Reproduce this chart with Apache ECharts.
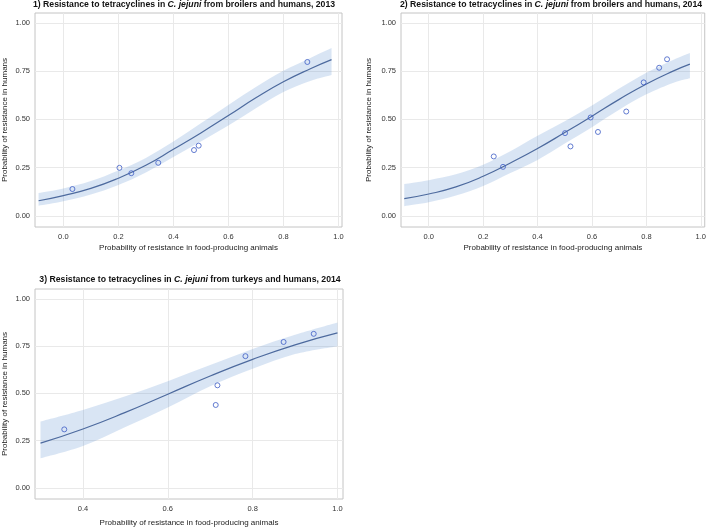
<!DOCTYPE html>
<html>
<head>
<meta charset="utf-8">
<script src="https://cdn.jsdelivr.net/npm/echarts@6/dist/echarts.min.js"></script>
<style>html,body{margin:0;padding:0;background:#fff}#c{width:709px;height:528px}</style>
</head>
<body>
<div id="c"></div>
<script>
// ---- Data ----
const xTicksA = [0, 0.2, 0.4, 0.6, 0.8, 1.0];
const xTicksC = [0.4, 0.6, 0.8, 1.0];
const yTicks = [0, 0.25, 0.5, 0.75, 1.0];

// Panel 1: broilers 2013
const p1ObsX = [0.033, 0.204, 0.247, 0.345, 0.475, 0.492, 0.887];
const p1ObsY = [0.139, 0.249, 0.221, 0.275, 0.341, 0.364, 0.798];
const p1CurveX = [-0.09, 0, 0.1, 0.2, 0.3, 0.4, 0.5, 0.6, 0.7, 0.8, 0.9, 0.975];
const p1Fit    = [0.078, 0.105, 0.142, 0.195, 0.262, 0.345, 0.43, 0.52, 0.612, 0.695, 0.764, 0.81];
const p1Lower  = [0.052, 0.075, 0.11, 0.16, 0.225, 0.305, 0.385, 0.468, 0.558, 0.642, 0.70, 0.73];
const p1Upper  = [0.118, 0.142, 0.18, 0.235, 0.30, 0.385, 0.48, 0.575, 0.668, 0.752, 0.82, 0.87];

// Panel 2: broilers 2014
const p2ObsX = [0.239, 0.273, 0.501, 0.521, 0.595, 0.622, 0.726, 0.790, 0.847, 0.876];
const p2ObsY = [0.308, 0.254, 0.429, 0.360, 0.510, 0.435, 0.541, 0.692, 0.768, 0.812];
const p2CurveX = [-0.09, 0, 0.1, 0.2, 0.3, 0.4, 0.5, 0.6, 0.7, 0.8, 0.9, 0.96];
const p2Fit    = [0.089, 0.113, 0.15, 0.205, 0.274, 0.349, 0.432, 0.517, 0.604, 0.684, 0.752, 0.787];
const p2Lower  = [0.05, 0.07, 0.105, 0.155, 0.222, 0.29, 0.375, 0.46, 0.55, 0.63, 0.69, 0.713];
const p2Upper  = [0.165, 0.185, 0.215, 0.265, 0.335, 0.415, 0.49, 0.572, 0.66, 0.742, 0.81, 0.845];

// Panel 3: turkeys 2014
const p3ObsX = [0.356, 0.713, 0.717, 0.783, 0.873, 0.944];
const p3ObsY = [0.310, 0.439, 0.543, 0.697, 0.772, 0.815];
const p3CurveX = [0.3, 0.4, 0.5, 0.6, 0.7, 0.8, 0.9, 1.0];
const p3Fit    = [0.237, 0.312, 0.40, 0.496, 0.592, 0.68, 0.757, 0.82];
const p3Lower  = [0.157, 0.222, 0.322, 0.425, 0.538, 0.63, 0.708, 0.75];
const p3Upper  = [0.352, 0.413, 0.485, 0.565, 0.65, 0.735, 0.81, 0.875];

const titles = [
  ['1) Resistance to tetracyclines in ', 'C. jejuni', ' from broilers and humans, 2013'],
  ['2) Resistance to tetracyclines in ', 'C. jejuni', ' from broilers and humans, 2014'],
  ['3) Resistance to tetracyclines in ', 'C. jejuni', ' from turkeys and humans, 2014']
];
const xName = 'Probability of resistance in food-producing animals';
const yName = 'Probability of resistance in humans';

// ---- Styling ----
const FONT = 'Liberation Sans, Arial, Helvetica, sans-serif';
const LINE = '#4d6a9e';
const BAND = 'rgba(95,145,210,0.24)';
const MARK = '#3d5cc6';
const GRIDC = '#e9e9e9';

function zip(a, b) { return a.map((v, i) => [v, b[i]]); }

const grids = [
  {left: 34, top: 13, width: 308, height: 214},
  {left: 401, top: 13, width: 307, height: 214},
  {left: 34, top: 289, width: 309, height: 212}
].map(g => Object.assign(g, {show: true, borderColor: '#c4c4c4', borderWidth: 1, backgroundColor: 'transparent', containLabel: false}));

function xAxis(gi, min, max, ticks, gap) {
  return {
    type: 'value', gridIndex: gi, min: min, max: max,
    name: xName, nameLocation: 'middle', nameGap: gap,
    nameTextStyle: {fontFamily: FONT, fontSize: 8, color: '#222'},
    axisLine: {show: false},
    axisTick: {show: false, customValues: ticks},
    axisLabel: {customValues: ticks, fontFamily: FONT, fontSize: 7.5, color: '#333', margin: 6,
      formatter: v => v.toFixed(1)},
    splitLine: {show: true, lineStyle: {color: GRIDC, width: 1}}
  };
}
function yAxis(gi, gap) {
  return {
    type: 'value', gridIndex: gi, min: -0.058, max: 1.052,
    name: yName, nameLocation: 'middle', nameGap: gap, nameRotate: 90,
    nameTextStyle: {fontFamily: FONT, fontSize: 8, color: '#222'},
    axisLine: {show: false},
    axisTick: {show: false, customValues: yTicks},
    axisLabel: {customValues: yTicks, fontFamily: FONT, fontSize: 7.5, color: '#333', margin: 5,
      formatter: v => v.toFixed(2)},
    splitLine: {show: true, lineStyle: {color: GRIDC, width: 1}}
  };
}

// smooth path (Catmull-Rom -> Bezier) through pixel points
function smoothSeg(pts, start) {
  let d = (start ? 'M' : 'L') + pts[0][0] + ' ' + pts[0][1];
  for (let i = 0; i < pts.length - 1; i++) {
    const p0 = pts[Math.max(i - 1, 0)], p1 = pts[i], p2 = pts[i + 1], p3 = pts[Math.min(i + 2, pts.length - 1)];
    const c1 = [p1[0] + (p2[0] - p0[0]) / 6, p1[1] + (p2[1] - p0[1]) / 6];
    const c2 = [p2[0] - (p3[0] - p1[0]) / 6, p2[1] - (p3[1] - p1[1]) / 6];
    d += ' C' + c1[0] + ' ' + c1[1] + ' ' + c2[0] + ' ' + c2[1] + ' ' + p2[0] + ' ' + p2[1];
  }
  return d;
}

function bandSeries(gi, cx, lo, hi) {
  return {
    type: 'custom', xAxisIndex: gi, yAxisIndex: gi, silent: true, z: 1,
    data: cx.map((x, i) => [x, lo[i], hi[i]]),
    encode: {x: 0, y: [1, 2]},
    renderItem: function (params, api) {
      if (params.dataIndex !== 0) return null;
      const up = cx.map((x, i) => api.coord([x, hi[i]]));
      const dn = cx.map((x, i) => api.coord([x, lo[i]])).reverse();
      const d = smoothSeg(up, true) + ' ' + smoothSeg(dn, false) + ' Z';
      return {type: 'path', shape: {pathData: d}, style: {fill: BAND, stroke: null}};
    }
  };
}

function panelSeries(gi, cx, fit, lo, hi, ox, oy) {
  return [
    bandSeries(gi, cx, lo, hi),
    {type: 'line', xAxisIndex: gi, yAxisIndex: gi, data: zip(cx, fit), smooth: true,
      symbol: 'none', lineStyle: {color: LINE, width: 1.2}, z: 3},
    {type: 'scatter', xAxisIndex: gi, yAxisIndex: gi, data: zip(ox, oy), symbol: 'circle', symbolSize: 5,
      itemStyle: {color: 'transparent', borderColor: MARK, borderWidth: 1}, z: 4}
  ];
}

function title(i, x, y) {
  const t = titles[i];
  return {
    text: '{a|' + t[0] + '}{b|' + t[1] + '}{a|' + t[2] + '}',
    left: x, top: y, textAlign: 'center', padding: 0,
    textStyle: {rich: {
      a: {fontFamily: FONT, fontWeight: 'bold', fontSize: 8.7, color: '#111'},
      b: {fontFamily: FONT, fontWeight: 'bold', fontStyle: 'italic', fontSize: 8.7, color: '#111'}
    }}
  };
}

const chart = echarts.init(document.getElementById('c'), null, {renderer: 'canvas'});
chart.setOption({
  animation: false,
  backgroundColor: '#fff',
  title: [title(0, 184, 0), title(1, 551, 0), title(2, 190, 275)],
  grid: grids,
  xAxis: [
    xAxis(0, -0.103, 1.013, xTicksA, 17),
    xAxis(1, -0.102, 1.0145, xTicksA, 17),
    xAxis(2, 0.287, 1.013, xTicksC, 20)
  ],
  yAxis: [yAxis(0, 26), yAxis(1, 28), yAxis(2, 26)],
  series: [].concat(
    panelSeries(0, p1CurveX, p1Fit, p1Lower, p1Upper, p1ObsX, p1ObsY),
    panelSeries(1, p2CurveX, p2Fit, p2Lower, p2Upper, p2ObsX, p2ObsY),
    panelSeries(2, p3CurveX, p3Fit, p3Lower, p3Upper, p3ObsX, p3ObsY)
  )
});
</script>
</body>
</html>
